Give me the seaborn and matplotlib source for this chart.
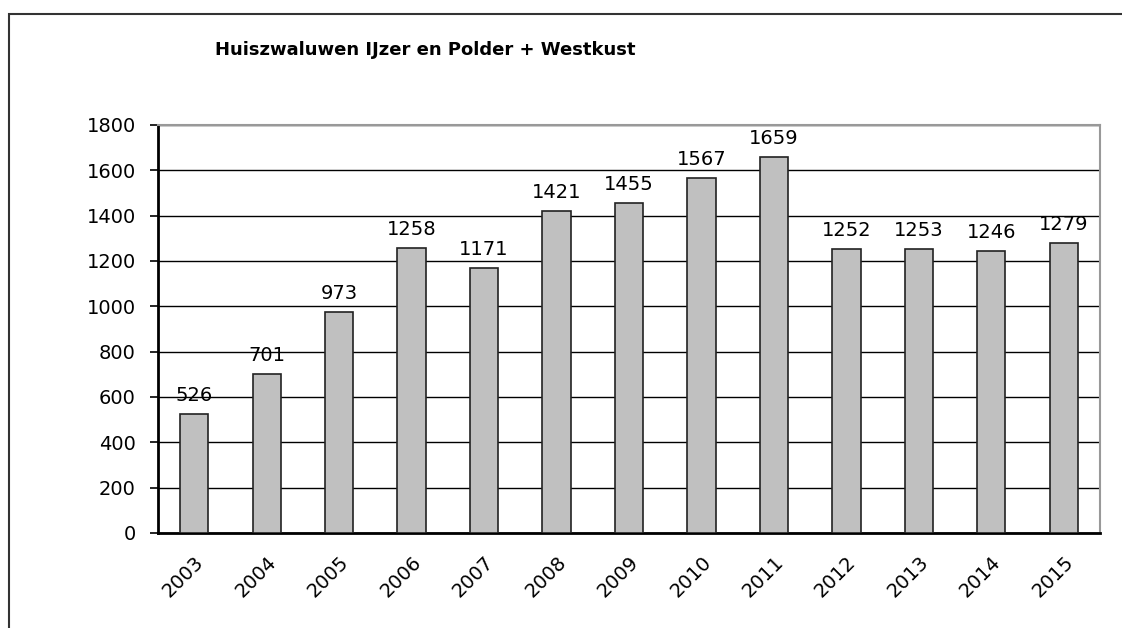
import numpy as np
import pandas as pd
import matplotlib
matplotlib.use('Agg')
import matplotlib.pyplot as plt
from matplotlib.patches import Rectangle
import seaborn as sns

# 데이터
years = ['2003', '2004', '2005', '2006', '2007', '2008', '2009',
         '2010', '2011', '2012', '2013', '2014', '2015']
counts = [526, 701, 973, 1258, 1171, 1421, 1455, 1567, 1659, 1252, 1253, 1246, 1279]
title = 'Huiszwaluwen IJzer en Polder + Westkust'

df = pd.DataFrame({'jaar': years, 'aantal': counts})

sns.set_style('white')
plt.rcParams['font.family'] = ['DejaVu Sans']
plt.rcParams['text.color'] = 'black'
plt.rcParams['xtick.color'] = 'black'
plt.rcParams['ytick.color'] = 'black'

fig = plt.figure(figsize=(11.22, 6.28), dpi=100)
ax = fig.add_axes([158 / 1122, 1 - 533 / 628, (1100 - 158) / 1122, (533 - 125) / 628])

sns.barplot(data=df, x='jaar', y='aantal', color='#c0c0c0', edgecolor='#222222',
            linewidth=1.2, width=0.39, saturation=1, ax=ax, zorder=3)

ax.set_ylim(0, 1800)
ax.set_xlim(-0.5, len(years) - 0.5)
ax.set_yticks(np.arange(0, 1801, 200))
ax.yaxis.grid(True, color='black', linewidth=1, zorder=0)
ax.set_axisbelow(True)

# x-ticks tussen de categorieën
ax.set_xticks(np.arange(len(years)))
ax.set_xticklabels(years, rotation=45, ha='right', rotation_mode='anchor', fontsize=14)
ax.set_xticks(np.arange(-0.5, len(years)), minor=True)
ax.tick_params(axis='x', which='major', length=0, pad=14)
ax.tick_params(axis='x', which='minor', length=6, width=1.2, color='black', direction='out')
ax.tick_params(axis='y', length=6, width=1.2, color='black', direction='out', labelsize=14,
               left=True, pad=10)
ax.set_xlabel('')
ax.set_ylabel('')

for side in ['top', 'right']:
    ax.spines[side].set_color('#999999')
    ax.spines[side].set_linewidth(1.5)
for side in ['left', 'bottom']:
    ax.spines[side].set_color('black')
    ax.spines[side].set_linewidth(2)

for i, v in enumerate(counts):
    ax.text(i, v + 40, str(v), ha='center', va='bottom', fontsize=14, zorder=5)

fig.text(215 / 1122, 1 - 50 / 628, title, fontsize=13, fontweight='bold', va='center', ha='left')

# buitenkader
fig.patches.append(Rectangle((9 / 1122, -0.1), 1.2, 1 - 14 / 628 + 0.1, transform=fig.transFigure,
                             fill=False, edgecolor='#333333', linewidth=1.5))

fig.savefig('out.png', dpi=100)
